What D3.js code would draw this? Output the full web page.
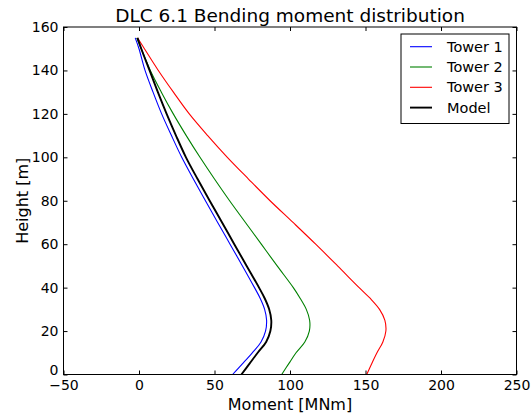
<!DOCTYPE html>
<html><head><meta charset="utf-8">
<script src="https://cdn.jsdelivr.net/npm/d3@7"></script>
<style>body{margin:0;background:#fff}svg{display:block}text{font-family:"DejaVu Sans",sans-serif}</style>
</head><body>
<script>
const heights = [155,150,140,130,120,110,100,90,80,70,60,50,40,35,30,25,20,15,10,5,0];
const tower1 = [-2.5,0,4,9.3,15,21.5,28.3,36,44,52.1,60.3,68.5,76.5,80.3,83.2,84.5,83.8,80.8,75,68.6,62];
const tower2 = [-1.5,1.5,7.5,14.8,22.7,31.3,40.4,50,60,70.5,81,91.5,102.2,106.8,110.8,113,112.8,109.8,104,99.2,94.5];
const tower3 = [-1,3.6,12.8,22.8,33.3,45.5,58.5,72.5,86.8,102,117,131.5,145.8,153.2,159.3,162.8,163.5,161.5,157.6,154.1,150.8];
const model  = [-1,1.5,7,12.5,18.3,24.5,31.1,38.8,46.8,55,63.1,71.3,79.5,83.3,86.2,87.6,87,84.2,78.6,73.2,67.8];
const xTicks = [-50,0,50,100,150,200,250];
const yTicks = [0,20,40,60,80,100,120,140,160];
const seriesNames = ["Tower 1","Tower 2","Tower 3","Model"];
const seriesColors = ["#0000ff","#008000","#ff0000","#000000"];
const seriesWidths = [1.1,1.1,1.1,1.9];
const seriesData = [tower1,tower2,tower3,model];

const W=532,H=414, L=63.5,R=516.5,T=27,B=374.5;
const svg=d3.select("body").append("svg").attr("width",W).attr("height",H);
const x=d3.scaleLinear().domain([-50,250]).range([L,R]);
const y=d3.scaleLinear().domain([0,160]).range([B,T]);

svg.append("clipPath").attr("id","c").append("rect").attr("x",L).attr("y",T).attr("width",R-L).attr("height",B-T);
const g=svg.append("g").attr("clip-path","url(#c)");
const line=d3.line().x(d=>x(d[0])).y(d=>y(d[1])).curve(d3.curveCatmullRom.alpha(0.5));
seriesData.forEach((s,i)=>{
  g.append("path").datum(s.map((v,j)=>[v,heights[j]]))
   .attr("d",line).attr("fill","none").attr("stroke",seriesColors[i]).attr("stroke-width",seriesWidths[i]);
});

const ax=d3.axisBottom(x).tickValues(xTicks).tickSize(-4).tickPadding(6).tickFormat(d=>d<0?"\u2212"+Math.abs(d):d);
const axT=d3.axisTop(x).tickValues(xTicks).tickSize(-4).tickFormat("");
const ay=d3.axisLeft(y).tickValues(yTicks).tickSize(-4).tickPadding(5);
const ayR=d3.axisRight(y).tickValues(yTicks).tickSize(-4).tickFormat("");
function style(sel){sel.select(".domain").remove();sel.selectAll("line").attr("stroke","#000");sel.selectAll("text").attr("font-size",14).attr("fill","#000").style("font-family","DejaVu Sans");}
svg.append("g").attr("transform",`translate(0,${B})`).call(ax).call(style);
svg.append("g").attr("transform",`translate(0,${T})`).call(axT).call(style);
const yg=svg.append("g").attr("transform",`translate(${L},0)`).call(ay).call(style);
yg.selectAll(".tick").filter(d=>d===0).select("text").attr("dy","0em");
svg.append("g").attr("transform",`translate(${R},0)`).call(ayR).call(style);
svg.append("rect").attr("x",L).attr("y",T).attr("width",R-L).attr("height",B-T).attr("fill","none").attr("stroke","#000").attr("stroke-width",1);

svg.append("text").attr("x",(L+R)/2).attr("y",22).attr("text-anchor","middle").attr("font-size",18.5).text("DLC 6.1 Bending moment distribution");
svg.append("text").attr("x",(L+R)/2).attr("y",410).attr("text-anchor","middle").attr("font-size",16).text("Moment [MNm]");
svg.append("text").attr("transform",`translate(28,${(T+B)/2}) rotate(-90)`).attr("text-anchor","middle").attr("font-size",16).text("Height [m]");

const lg=svg.append("g");
lg.append("rect").attr("x",401).attr("y",34).attr("width",108).attr("height",89.5).attr("fill","#fff").attr("stroke","#000").attr("stroke-width",1);
seriesNames.forEach((n,i)=>{
  const yy=46.7+i*20.3;
  lg.append("line").attr("x1",410).attr("x2",432).attr("y1",yy).attr("y2",yy).attr("stroke",seriesColors[i]).attr("stroke-width",seriesWidths[i]);
  lg.append("text").attr("x",447).attr("y",yy+5).attr("font-size",14.5).text(n);
});
</script>
</body></html>
